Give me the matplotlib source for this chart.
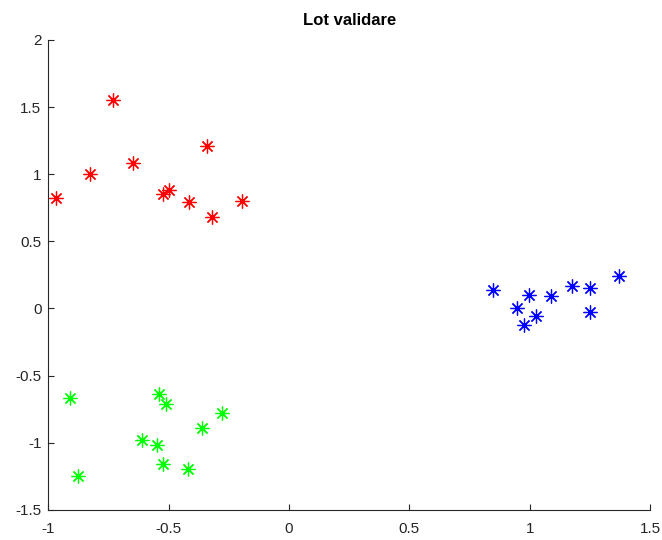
import matplotlib
matplotlib.use("Agg")
import matplotlib.pyplot as plt

plt.rcParams['font.family'] = ['Liberation Sans', 'DejaVu Sans']

# Three validation clusters
red_x = [-0.97, -0.73, -0.825, -0.65, -0.34, -0.525, -0.50, -0.417, -0.32, -0.196]
red_y = [0.82, 1.55, 1.00, 1.08, 1.21, 0.85, 0.88, 0.79, 0.68, 0.80]

green_x = [-0.91, -0.875, -0.54, -0.51, -0.61, -0.55, -0.525, -0.42, -0.36, -0.28]
green_y = [-0.67, -1.25, -0.64, -0.71, -0.98, -1.02, -1.16, -1.20, -0.89, -0.78]

blue_x = [0.846, 0.946, 0.996, 0.975, 1.025, 1.09, 1.175, 1.25, 1.25, 1.37]
blue_y = [0.134, 0.0, 0.10, -0.12, -0.06, 0.09, 0.17, 0.15, -0.03, 0.24]

x_ticks = [-1, -0.5, 0, 0.5, 1, 1.5]
x_tick_labels = ['-1', '-0.5', '0', '0.5', '1', '1.5']
y_ticks = [-1.5, -1, -0.5, 0, 0.5, 1, 1.5, 2]
y_tick_labels = ['-1.5', '-1', '-0.5', '0', '0.5', '1', '1.5', '2']

fig = plt.figure(figsize=(6.62, 5.40), dpi=100)
ax = fig.add_axes([0.073, 0.056, 0.909, 0.870])

asterisk = (8, 2, 0)
for xs, ys, c in [(red_x, red_y, (1, 0, 0)),
                  (green_x, green_y, (0, 1, 0)),
                  (blue_x, blue_y, (0, 0, 1))]:
    ax.plot(xs, ys, linestyle='none', marker=asterisk, markersize=10,
            markeredgewidth=0.9, color=c)

ax.set_xlim(-1, 1.5)
ax.set_ylim(-1.5, 2)
ax.set_xticks(x_ticks)
ax.set_xticklabels(x_tick_labels)
ax.set_yticks(y_ticks)
ax.set_yticklabels(y_tick_labels)

for side in ['top', 'right']:
    ax.spines[side].set_visible(False)
for side in ['left', 'bottom']:
    ax.spines[side].set_color((0.15, 0.15, 0.15))
    ax.spines[side].set_linewidth(0.8)

ax.tick_params(direction='in', length=4, width=0.8, colors=(0.15, 0.15, 0.15),
               labelsize=11)
ax.tick_params(axis='x', pad=9)
ax.tick_params(axis='y', pad=5)
ax.set_title('Lot validare', fontsize=12, fontweight='bold', pad=11)

fig.savefig('out.png', dpi=100, facecolor='white')
